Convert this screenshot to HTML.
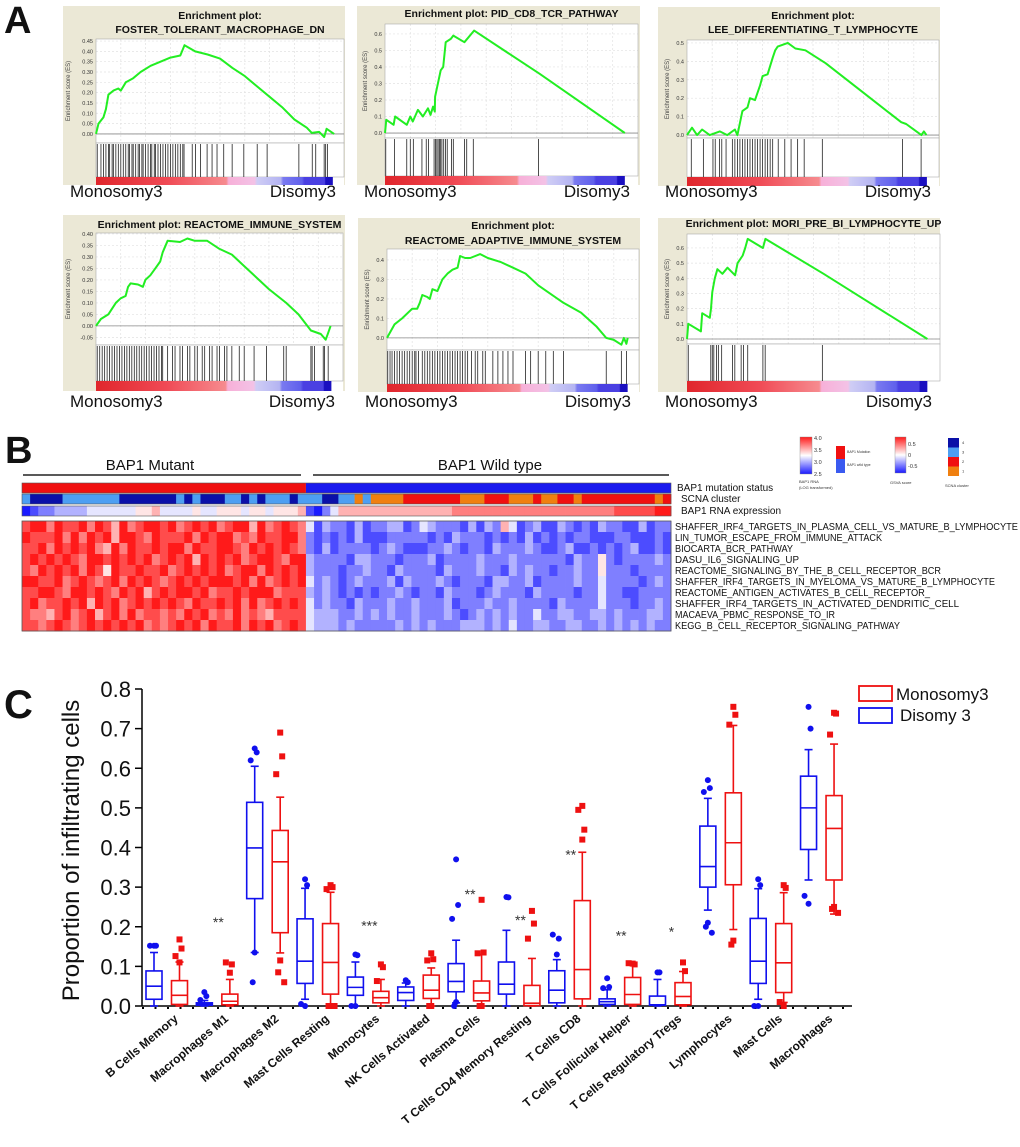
<!DOCTYPE html>
<html><head><meta charset="utf-8"><style>
html,body{margin:0;padding:0;background:#fff;}
svg{display:block;font-family:"Liberation Sans",Arial,sans-serif;}
</style></head><body>
<svg id="fig" width="1020" height="1147" viewBox="0 0 1020 1147" xmlns="http://www.w3.org/2000/svg">
<defs>
<linearGradient id="rankGrad" x1="0" x2="1" y1="0" y2="0">
<stop offset="0" stop-color="#e0262c"/><stop offset="0.3" stop-color="#f04a55"/><stop offset="0.55" stop-color="#f68b8f"/>
<stop offset="0.56" stop-color="#f7b0d8"/><stop offset="0.67" stop-color="#f3c2e6"/><stop offset="0.68" stop-color="#cfcdf5"/>
<stop offset="0.78" stop-color="#b4b4f2"/><stop offset="0.79" stop-color="#7a7af0"/><stop offset="0.87" stop-color="#6060ec"/>
<stop offset="0.88" stop-color="#4a40e2"/><stop offset="0.965" stop-color="#4a40e2"/><stop offset="0.97" stop-color="#1a0fc0"/><stop offset="1" stop-color="#1a0fc0"/>
</linearGradient>
<linearGradient id="bwrGrad" x1="0" x2="0" y1="0" y2="1">
<stop offset="0" stop-color="#ff1a1a"/><stop offset="0.5" stop-color="#ffffff"/><stop offset="1" stop-color="#1a1aff"/>
</linearGradient>
</defs>
<g id="panelA"></g>
<g id="panelB"></g>
<g id="panelC"></g>
</svg>
<script>
// ===== Panel A data =====
const p1X=[0,0.01,0.03,0.04,0.05,0.07,0.09,0.1,0.12,0.15,0.18,0.22,0.26,0.3,0.34,0.357,0.4,0.45,0.5,0.55,0.6,0.65,0.7,0.75,0.8,0.85,0.87,0.9,0.92,0.93,0.96];
const p1Y=[0,0.05,0.08,0.12,0.19,0.21,0.22,0.21,0.25,0.27,0.3,0.33,0.35,0.37,0.38,0.43,0.4,0.385,0.365,0.32,0.28,0.23,0.18,0.13,0.07,0.03,0.005,0.01,-0.015,0.025,0];
const p1Hits=[0.005,0.02,0.03,0.04,0.05,0.055,0.065,0.07,0.08,0.09,0.1,0.11,0.12,0.13,0.135,0.145,0.15,0.16,0.17,0.175,0.185,0.19,0.2,0.21,0.22,0.225,0.235,0.24,0.25,0.26,0.27,0.28,0.29,0.3,0.31,0.32,0.33,0.34,0.35,0.355,0.388,0.401,0.421,0.448,0.468,0.488,0.515,0.549,0.596,0.65,0.69,0.818,0.872,0.886,0.92,0.926,0.933];
const p2X=[0,0.005,0.034,0.04,0.086,0.1,0.11,0.13,0.15,0.17,0.18,0.19,0.197,0.198,0.22,0.23,0.24,0.26,0.27,0.314,0.352,0.61,0.948];
const p2Y=[0,0.08,0.05,0.1,0.05,0.1,0.07,0.14,0.1,0.15,0.11,0.16,0.13,0.22,0.38,0.4,0.55,0.57,0.59,0.55,0.62,0.36,0];
const p2Hits=[0.003,0.038,0.086,0.1,0.112,0.146,0.163,0.172,0.194,0.2,0.205,0.21,0.215,0.22,0.225,0.232,0.239,0.246,0.263,0.27,0.314,0.323,0.349,0.607];
const p3X=[0,0.02,0.04,0.06,0.09,0.13,0.16,0.19,0.2,0.22,0.24,0.25,0.27,0.29,0.3,0.32,0.34,0.35,0.36,0.4,0.43,0.47,0.55,0.7,0.85,0.87,0.93,0.94,0.95];
const p3Y=[0,0.04,0,0.03,0,0.02,0,0.03,0,0.13,0.15,0.2,0.19,0.27,0.32,0.33,0.42,0.46,0.48,0.5,0.47,0.46,0.39,0.23,0.07,0.06,0,0.02,0];
const p3Hits=[0.017,0.065,0.103,0.112,0.129,0.138,0.155,0.18,0.19,0.2,0.21,0.22,0.23,0.24,0.25,0.26,0.27,0.28,0.29,0.3,0.31,0.32,0.33,0.34,0.362,0.388,0.413,0.439,0.465,0.537,0.855,0.929];
const p4X=[0,0.02,0.05,0.08,0.1,0.12,0.13,0.14,0.17,0.19,0.2,0.22,0.24,0.26,0.27,0.29,0.34,0.37,0.4,0.45,0.5,0.55,0.6,0.7,0.77,0.82,0.87,0.91,0.93,0.94,0.95];
const p4Y=[0,0.03,0.05,0.1,0.12,0.13,0.17,0.185,0.18,0.17,0.2,0.22,0.25,0.28,0.32,0.37,0.365,0.38,0.37,0.37,0.335,0.31,0.26,0.16,0.1,0.05,-0.02,-0.035,-0.06,-0.03,0];
const p4Hits=[0.005,0.015,0.025,0.035,0.045,0.055,0.065,0.075,0.085,0.095,0.105,0.115,0.125,0.135,0.145,0.155,0.165,0.175,0.185,0.195,0.205,0.215,0.225,0.235,0.245,0.255,0.265,0.27,0.29,0.31,0.32,0.34,0.35,0.37,0.38,0.4,0.41,0.43,0.44,0.46,0.47,0.49,0.5,0.52,0.53,0.55,0.58,0.6,0.64,0.69,0.76,0.77,0.87,0.875,0.885,0.92,0.925,0.94];
const p5X=[0,0.03,0.06,0.1,0.12,0.13,0.14,0.16,0.17,0.18,0.2,0.22,0.24,0.26,0.28,0.29,0.31,0.33,0.37,0.4,0.45,0.5,0.55,0.6,0.7,0.77,0.83,0.87,0.9,0.93,0.94,0.95,0.955];
const p5Y=[0,0.07,0.1,0.15,0.15,0.18,0.22,0.21,0.2,0.25,0.24,0.3,0.33,0.35,0.36,0.42,0.41,0.41,0.43,0.41,0.39,0.36,0.33,0.27,0.18,0.13,0.06,0,-0.01,-0.035,0,-0.03,0];
const p5Hits=[0.003,0.012,0.02,0.03,0.04,0.05,0.06,0.07,0.08,0.09,0.1,0.11,0.115,0.125,0.14,0.15,0.16,0.17,0.18,0.19,0.2,0.21,0.22,0.23,0.24,0.25,0.26,0.27,0.28,0.29,0.3,0.31,0.32,0.335,0.35,0.36,0.38,0.39,0.42,0.44,0.46,0.48,0.5,0.55,0.57,0.6,0.63,0.66,0.7,0.87,0.93,0.95];
const p6X=[0,0.005,0.055,0.06,0.09,0.095,0.1,0.11,0.12,0.14,0.16,0.19,0.2,0.22,0.23,0.24,0.3,0.31,0.54,0.95];
const p6Y=[0,0.1,0.05,0.17,0.14,0.2,0.31,0.4,0.46,0.43,0.47,0.42,0.5,0.55,0.6,0.66,0.6,0.66,0.43,0];
const p6Hits=[0.005,0.094,0.1,0.106,0.117,0.124,0.137,0.18,0.189,0.214,0.223,0.24,0.3,0.309,0.535];

const NS="http://www.w3.org/2000/svg";
function mk(parent,tag,attrs,text){const e=document.createElementNS(NS,tag);for(const k in attrs)e.setAttribute(k,attrs[k]);if(text!==undefined)e.textContent=text;parent.appendChild(e);return e;}

function gsea(cfg,xs,ys,hits,name){
  const root=document.getElementById('panelA');
  const g=mk(root,'g',{});
  
  
  const bg=mk(g,'rect',{x:cfg.bx0,y:cfg.by0,width:cfg.bx1-cfg.bx0,height:cfg.by1-cfg.by0,fill:'#ebe8d6'});
  
  
  cfg.titles.forEach((t,i)=>{
    const tt=mk(g,'text',{x:(cfg.fx0+cfg.fx1)/2,y:cfg.ty[i],'text-anchor':'middle','font-size':10.5,'font-weight':'bold',fill:'#111'},t);
    
    
  });
  const fw=cfg.fx1-cfg.fx0;
  const sx=f=>cfg.fx0+f*fw;
  const sy=v=>cfg.fy1-(v-cfg.yMin)/(cfg.yMax-cfg.yMin)*(cfg.fy1-cfg.fy0);
  mk(g,'rect',{x:cfg.fx0,y:cfg.fy0,width:fw,height:cfg.by1-cfg.fy0,fill:'#fff'});
  for(let i=1;i<10;i++){mk(g,'line',{x1:cfg.fx0+i*fw/10,x2:cfg.fx0+i*fw/10,y1:cfg.fy0,y2:cfg.fy1,stroke:'#e2e2e2','stroke-width':0.7,'stroke-dasharray':'2,2'});}
  cfg.ticks.forEach(v=>{
    mk(g,'line',{x1:cfg.fx0,x2:cfg.fx1,y1:sy(v),y2:sy(v),stroke:'#e2e2e2','stroke-width':0.7,'stroke-dasharray':'2,2'});
    const tl=mk(g,'text',{x:cfg.fx0-3,y:sy(v)+2,'text-anchor':'end','font-size':5.5,fill:'#333'},v.toFixed(cfg.dec));
    
    
  });
  const yt=mk(g,'text',{x:0,y:0,'text-anchor':'middle','font-size':6,fill:'#444',transform:`translate(${cfg.fx0-cfg.ytOff},${(cfg.fy0+cfg.fy1)/2}) rotate(-90)`},'Enrichment score (ES)');
  
  
  mk(g,'rect',{x:cfg.fx0,y:cfg.fy0,width:fw,height:cfg.fy1-cfg.fy0,fill:'none',stroke:'#aaa','stroke-width':0.6});
  mk(g,'line',{x1:cfg.fx0,x2:cfg.fx1,y1:sy(0),y2:sy(0),stroke:'#888','stroke-width':0.8});
  const pts=xs.map((x,i)=>sx(x).toFixed(1)+','+sy(ys[i]).toFixed(1)).join(' ');
  const es=mk(g,'polyline',{points:pts,fill:'none',stroke:'#22ee22','stroke-width':2,'stroke-linejoin':'round'});
  
  
  mk(g,'rect',{x:cfg.fx0,y:cfg.fy1,width:fw,height:cfg.hy1-cfg.fy1,fill:'#fff',stroke:'#aaa','stroke-width':0.6});
  hits.forEach(h=>{
    const l=mk(g,'line',{x1:sx(h),x2:sx(h),y1:cfg.fy1+1,y2:cfg.hy1,stroke:'#222','stroke-width':0.8});
    
    
  });
  const bar=mk(g,'rect',{x:cfg.fx0,y:cfg.hy1,width:fw*cfg.barW,height:cfg.by1-cfg.hy1,fill:'url(#rankGrad)'});
  
  
  const m=mk(g,'text',{x:cfg.bx0+7,y:cfg.labY,'font-size':17,fill:'#111'},'Monosomy3');
  
  
  const d=mk(g,'text',{x:cfg.fx1-8,y:cfg.labY,'text-anchor':'end','font-size':17,fill:'#111'},'Disomy3');
  
  
}
function rng(a,b,s){const r=[];for(let v=a;v<=b+1e-9;v+=s)r.push(Math.round(v*100)/100);return r;}
gsea({bx0:63,bx1:345,by0:6,by1:185,titles:['Enrichment plot:','FOSTER_TOLERANT_MACROPHAGE_DN'],ty:[19,33],fx0:96,fx1:344,fy0:39,fy1:143,yMin:-0.044,yMax:0.46,ticks:rng(0,0.45,0.05),dec:2,ytOff:26,hy1:177,barW:0.955,labY:197},p1X,p1Y,p1Hits,'gsea-plot-foster');
gsea({bx0:357,bx1:640,by0:6,by1:185,titles:['Enrichment plot: PID_CD8_TCR_PATHWAY'],ty:[17],fx0:385,fx1:638,fy0:24,fy1:138,yMin:-0.03,yMax:0.66,ticks:rng(0,0.6,0.1),dec:1,ytOff:18,hy1:176,barW:0.948,labY:197},p2X,p2Y,p2Hits,'gsea-plot-pid-cd8');
gsea({bx0:658,bx1:940,by0:7,by1:186,titles:['Enrichment plot:','LEE_DIFFERENTIATING_T_LYMPHOCYTE'],ty:[19,33],fx0:687,fx1:939,fy0:40,fy1:138,yMin:-0.016,yMax:0.516,ticks:rng(0,0.5,0.1),dec:1,ytOff:18,hy1:177,barW:0.952,labY:197},p3X,p3Y,p3Hits,'gsea-plot-lee');
gsea({bx0:63,bx1:345,by0:215,by1:391,titles:['Enrichment plot: REACTOME_IMMUNE_SYSTEM'],ty:[228],fx0:96,fx1:343,fy0:233,fy1:345,yMin:-0.083,yMax:0.404,ticks:rng(-0.05,0.4,0.05),dec:2,ytOff:26,hy1:381,barW:0.953,labY:407},p4X,p4Y,p4Hits,'gsea-plot-reactome-immune');
gsea({bx0:358,bx1:640,by0:218,by1:392,titles:['Enrichment plot:','REACTOME_ADAPTIVE_IMMUNE_SYSTEM'],ty:[229,244],fx0:387,fx1:639,fy0:249,fy1:350,yMin:-0.062,yMax:0.456,ticks:rng(0,0.4,0.1),dec:1,ytOff:18,hy1:384,barW:0.955,labY:407},p5X,p5Y,p5Hits,'gsea-plot-reactome-adaptive');
gsea({bx0:658,bx1:940,by0:218,by1:392,titles:['Enrichment plot: MORI_PRE_BI_LYMPHOCYTE_UP'],ty:[227],fx0:687,fx1:940,fy0:234,fy1:344,yMin:-0.033,yMax:0.692,ticks:rng(0,0.6,0.1),dec:1,ytOff:18,hy1:381,barW:0.95,labY:407},p6X,p6Y,p6Hits,'gsea-plot-mori');

// ===== Panel B data =====
const hmRows=['SHAFFER_IRF4_TARGETS_IN_PLASMA_CELL_VS_MATURE_B_LYMPHOCYTE','LIN_TUMOR_ESCAPE_FROM_IMMUNE_ATTACK','BIOCARTA_BCR_PATHWAY','DASU_IL6_SIGNALING_UP','REACTOME_SIGNALING_BY_THE_B_CELL_RECEPTOR_BCR','SHAFFER_IRF4_TARGETS_IN_MYELOMA_VS_MATURE_B_LYMPHOCYTE','REACTOME_ANTIGEN_ACTIVATES_B_CELL_RECEPTOR_','SHAFFER_IRF4_TARGETS_IN_ACTIVATED_DENDRITIC_CELL','MACAEVA_PBMC_RESPONSE_TO_IR','KEGG_B_CELL_RECEPTOR_SIGNALING_PATHWAY'];
const hmVals=[
'89979 88979 86978 99897 89897 89969 78987 41322 13122 33124 32221 31326 41231 13212 13221 13122',
'98889 79798 96998 79888 97989 97879 88997 21212 13111 22222 12132 22121 21312 12122 11122 11121',
'88979 89897 69798 89899 79889 98798 98987 21312 22212 32111 22321 22132 22321 12311 21212 31121',
'89898 98799 89898 97898 96989 89789 98799 32222 13322 21222 31222 23222 32222 22132 25212 22232',
'87989 89798 59889 88978 98989 78997 98989 32221 22322 13222 21322 23221 32322 12232 25222 12222',
'99889 78987 89798 98789 89899 98979 78989 42321 23222 31322 23212 22133 22312 22232 24222 21232',
'88998 79989 87989 68989 98978 89899 97888 32321 21212 23212 21322 21232 22132 22212 24221 12222',
'89788 98969 89789 89898 79889 89797 89898 42322 13222 32232 22312 22322 32222 13222 24222 12232',
'87768 97896 89797 88787 98978 79787 68888 43332 23232 32232 22321 23232 32242 23322 33232 22332',
'88789 87898 98989 78789 89798 89798 97898 43332 32222 23232 32223 33232 42233 22332 23232 32322'];
const mutantCount=35;
const scnaSegs=[[0,1,'L'],[1,5,'D'],[5,12,'L'],[12,19,'D'],[19,20,'L'],[20,21,'D'],[21,22,'L'],[22,25,'D'],[25,27,'L'],[27,28,'D'],[28,29,'L'],[29,30,'D'],[30,33,'L'],[33,34,'D'],[34,37,'L'],[37,39,'D'],[39,41,'L'],[41,42,'O'],[42,43,'L'],[43,47,'O'],[47,54,'R'],[54,57,'O'],[57,60,'R'],[60,63,'O'],[63,64,'R'],[64,66,'O'],[66,68,'R'],[68,69,'O'],[69,78,'R'],[78,79,'O'],[79,80,'R']];
const rnaExpr='01223 33344 44445 56444 45445 55455 45556 10246 66666 66666 66677 77777 77777 77777 77788 88899';

(function(){
  const g=document.getElementById('panelB');
  const colors={L:'#4d9ff2',D:'#0a10a8',O:'#f08010',R:'#f01010'};
  function bwr(v){const t=v/9;let r,gg,b;if(t<0.5){const u=t/0.5;r=26+u*229;gg=26+u*229;b=255;}else{const u=(t-0.5)/0.5;r=255;gg=255-u*229;b=255-u*229;}return `rgb(${r|0},${gg|0},${b|0})`;}
  const x0=22,x1=671,cols=80,cw=(x1-x0)/cols;
  const lbl=mk(g,'text',{x:5,y:463,'font-size':38,'font-weight':'bold',fill:'#111'},'B');
  
  const mt=mk(g,'text',{x:150,y:470,'text-anchor':'middle','font-size':15,fill:'#111'},'BAP1 Mutant');
  
  mk(g,'line',{x1:23,x2:301,y1:475,y2:475,stroke:'#222','stroke-width':1.5});
  const wt=mk(g,'text',{x:490,y:470,'text-anchor':'middle','font-size':15,fill:'#111'},'BAP1 Wild type');
  
  mk(g,'line',{x1:313,x2:669,y1:475,y2:475,stroke:'#222','stroke-width':1.5});
  const ms1=mk(g,'rect',{x:x0,y:483,width:mutantCount*cw,height:10,fill:'#f01010'});
  
  const ms2=mk(g,'rect',{x:x0+mutantCount*cw,y:483,width:(cols-mutantCount)*cw,height:10,fill:'#1a1aee'});
  
  scnaSegs.forEach(s=>{
    const r=mk(g,'rect',{x:x0+s[0]*cw,y:494,width:(s[1]-s[0])*cw+0.3,height:10,fill:colors[s[2]]});
    
  });
  const rv=rnaExpr.replace(/ /g,'');
  for(let c=0;c<cols;c++){
    const r=mk(g,'rect',{x:x0+c*cw,y:506,width:cw+0.4,height:10,fill:bwr(+rv[c])});
    
  }
  [483,494,506].forEach(y=>mk(g,'rect',{x:x0,y:y,width:x1-x0,height:10,fill:'none',stroke:'#555','stroke-width':0.6}));
  [['BAP1 mutation status',491,677],['SCNA cluster',502,681],['BAP1 RNA expression',514,681]].forEach(a=>{
    const t=mk(g,'text',{x:a[2],y:a[1],'font-size':10,fill:'#111'},a[0]);
    
  });
  const top=521,rh=11;
  hmVals.forEach((row,ri)=>{
    const v=row.replace(/ /g,'');
    for(let c=0;c<cols;c++){
      const r=mk(g,'rect',{x:x0+c*cw,y:top+ri*rh,width:cw+0.4,height:rh+0.4,fill:bwr(+v[c])});
      
    }
    const t=mk(g,'text',{x:675,y:top+ri*rh+9,'font-size':10,fill:'#111'},hmRows[ri]);
    
    const L=hmRows[ri].length*5.92;t.setAttribute('textLength',L.toFixed(0));t.setAttribute('lengthAdjust','spacingAndGlyphs');
  });
  mk(g,'rect',{x:x0,y:top,width:x1-x0,height:rh*10,fill:'none',stroke:'#555','stroke-width':0.8});
  const lg=mk(g,'g',{});
  mk(lg,'rect',{x:800,y:437,width:12,height:37,fill:'url(#bwrGrad)',stroke:'#888','stroke-width':0.4});
  ['4.0','3.5','3.0','2.5'].forEach((s,i)=>mk(lg,'text',{x:814,y:440+i*12,'font-size':5.5,fill:'#333'},s));
  mk(lg,'text',{x:799,y:483,'font-size':4,fill:'#333'},'BAP1 RNA');
  mk(lg,'text',{x:799,y:489,'font-size':4,fill:'#333'},'(LOG transformed)');
  mk(lg,'rect',{x:836,y:446,width:9,height:13,fill:'#f01010'});
  mk(lg,'rect',{x:836,y:459,width:9,height:14,fill:'#3a5af0'});
  mk(lg,'text',{x:847,y:453,'font-size':3.5,fill:'#333'},'BAP1 Mutation');
  mk(lg,'text',{x:847,y:466,'font-size':3.5,fill:'#333'},'BAP1 wild type');
  mk(lg,'rect',{x:895,y:437,width:11,height:36,fill:'url(#bwrGrad)',stroke:'#888','stroke-width':0.4});
  ['0.5','0','-0.5'].forEach((s,i)=>mk(lg,'text',{x:908,y:446+i*11,'font-size':5.5,fill:'#333'},s));
  mk(lg,'text',{x:890,y:484,'font-size':4,fill:'#333'},'GSVA score');
  ['#0a10a8','#4d9ff2','#f01010','#f08010'].forEach((c,i)=>mk(lg,'rect',{x:948,y:438+i*9.5,width:11,height:9.5,fill:c}));
  ['4','3','2','1'].forEach((s,i)=>mk(lg,'text',{x:962,y:444+i*9.5,'font-size':4,fill:'#333'},s));
  mk(lg,'text',{x:945,y:487,'font-size':4,fill:'#333'},'SCNA cluster');
})();

// ===== Panel C data =====
const cellTypes=['B Cells Memory','Macrophages M1','Macrophages M2','Mast Cells Resting','Monocytes','NK Cells Activated','Plasma Cells','T Cells CD4 Memory Resting','T Cells CD8','T Cells Follicular Helper','T Cells Regulatory Tregs','Lymphocytes','Mast Cells','Macrophages'];
// [whiskerLow, q1, median, q3, whiskerHigh]
const disomyStats=[[0,0.017,0.05,0.0885,0.135],[0,0.002,0.005,0.008,0.014],[0.135,0.271,0.399,0.514,0.605],[0.017,0.057,0.113,0.22,0.297],[0,0.027,0.047,0.073,0.111],[0,0.014,0.034,0.048,0.058],[0.008,0.036,0.062,0.107,0.166],[0,0.03,0.055,0.111,0.191],[0,0.008,0.04,0.089,0.117],[0,0.004,0.011,0.018,0.041],[0,0.002,0.003,0.025,0.067],[0.242,0.3,0.352,0.454,0.524],[0.017,0.057,0.113,0.221,0.296],[0.318,0.395,0.5,0.58,0.647]];
const monosomyStats=[[0,0.004,0.027,0.064,0.111],[0,0.003,0.012,0.03,0.067],[0.134,0.185,0.364,0.443,0.527],[0,0.03,0.11,0.208,0.287],[0,0.008,0.021,0.037,0.067],[0,0.019,0.04,0.078,0.096],[0,0.013,0.033,0.063,0.13],[0,0.001,0.007,0.052,0.12],[0,0.018,0.092,0.266,0.388],[0,0.004,0.029,0.072,0.103],[0,0.003,0.024,0.059,0.087],[0.193,0.306,0.412,0.538,0.708],[0.009,0.034,0.109,0.208,0.286],[0.232,0.318,0.448,0.531,0.661]];
const disomyOutliers=[[0.152,0.152,0.152],[0.035,0.025,0.015],[0.65,0.64,0.62,0.135,0.06],[0.32,0.305,0.005,0],[0.13,0.128,0,0],[0.065,0.06],[0.37,0.255,0.22,0.01,0],[0.275,0.274],[0.13,0.17,0.18],[0.07,0.048,0.045],[0.085,0.085],[0.57,0.55,0.54,0.21,0.2,0.185],[0.32,0.305,0,0],[0.755,0.7,0.278,0.258]];
const monosomyOutliers=[[0.168,0.145,0.126,0.11],[0.084,0.105,0.11],[0.69,0.63,0.585,0.115,0.085,0.06],[0.305,0.3,0.295,0,0,0],[0.105,0.098,0.063],[0.133,0.118,0.115,0,0],[0.268,0.135,0.133,0,0],[0.24,0.208,0.17],[0.42,0.445,0.495,0.505],[0.107,0.105,0.108],[0.11,0.088],[0.755,0.735,0.71,0.165,0.155],[0.305,0.298,0.01,0],[0.74,0.738,0.685,0.25,0.245,0.235]];
const sigLabels=['','**','','','***','','**','**','**','**','*','','',''];
const sigValues=[0,0.2,0,0,0.19,0,0.27,0.205,0.37,0.165,0.175,0,0,0];
const yTickVals=[0,0.1,0.2,0.3,0.4,0.5,0.6,0.7,0.8];

(function(){
  const g=document.getElementById('panelC');
  const y0=1006,y8=689,ax=142,xEnd=852;
  const yS=v=>y0-v/0.8*(y0-y8);
  const xS=i=>154+i*50.35;
  const off=25.5,bw=16;
  const lbl=mk(g,'text',{x:4,y:718,'font-size':40,'font-weight':'bold',fill:'#111'},'C');
  
  const ya=mk(g,'line',{x1:ax,x2:ax,y1:y8,y2:y0,stroke:'#000','stroke-width':1.5});
  
  yTickVals.forEach(v=>{
    mk(g,'line',{x1:ax-7,x2:ax,y1:yS(v),y2:yS(v),stroke:'#000','stroke-width':1.5});
    const t=mk(g,'text',{x:ax-11,y:yS(v)+8,'text-anchor':'end','font-size':22,fill:'#111'},v.toFixed(1));
    
  });
  const yt=mk(g,'text',{x:0,y:0,'text-anchor':'middle','font-size':24,fill:'#111',transform:`translate(79,${(y0+y8)/2+3}) rotate(-90)`},'Proportion of infiltrating cells');
  
  const xa=mk(g,'line',{x1:ax,x2:xEnd,y1:y0,y2:y0,stroke:'#000','stroke-width':1.5});
  
  mk(g,'line',{x1:ax,x2:xEnd,y1:y0+2,y2:y0+2,stroke:'#000','stroke-width':2,'stroke-dasharray':'2,10.5'});
  function box(cx,s,outs,color,isRed,name){
    const bg=mk(g,'g',{});
    
    
    mk(bg,'line',{x1:cx,x2:cx,y1:yS(s[0]),y2:yS(s[1]),stroke:color,'stroke-width':1.6});
    mk(bg,'line',{x1:cx,x2:cx,y1:yS(s[3]),y2:yS(s[4]),stroke:color,'stroke-width':1.6});
    mk(bg,'line',{x1:cx-4,x2:cx+4,y1:yS(s[4]),y2:yS(s[4]),stroke:color,'stroke-width':1.6});
    mk(bg,'line',{x1:cx-4,x2:cx+4,y1:yS(s[0]),y2:yS(s[0]),stroke:color,'stroke-width':1.6});
    mk(bg,'rect',{x:cx-bw/2,y:yS(s[3]),width:bw,height:Math.max(yS(s[1])-yS(s[3]),1),fill:'none',stroke:color,'stroke-width':1.6});
    mk(bg,'line',{x1:cx-bw/2,x2:cx+bw/2,y1:yS(s[2]),y2:yS(s[2]),stroke:color,'stroke-width':1.6});
    outs.forEach((v,k)=>{
      const dx=(k%2===0?-1:1)*((k%3)*2);
      if(isRed){const o=mk(bg,'rect',{x:cx+dx-3,y:yS(v)-3,width:6,height:6,fill:color});}
      else{const o=mk(bg,'circle',{cx:cx+dx,cy:yS(v),r:3,fill:color});}
    });
  }
  cellTypes.forEach((c,i)=>{
    box(xS(i),disomyStats[i],disomyOutliers[i],'#1010ee',false,'box-disomy3');
    box(xS(i)+off,monosomyStats[i],monosomyOutliers[i],'#ee1111',true,'box-monosomy3');
    if(sigLabels[i]){
      const st=mk(g,'text',{x:xS(i)+off*0.55,y:yS(sigValues[i]),'text-anchor':'middle','font-size':14,fill:'#333'},sigLabels[i]);
      
    }
    const xl=mk(g,'text',{x:0,y:0,'text-anchor':'end','font-size':12,'font-weight':'bold',fill:'#111',transform:`translate(${xS(i)+off/2+12},${y0+14}) rotate(-40)`},c);
    
  });
  const lg=mk(g,'g',{});
  const l1=mk(lg,'rect',{x:859,y:686,width:33,height:15,fill:'none',stroke:'#ee1111','stroke-width':1.8});
  
  const t1=mk(lg,'text',{x:896,y:700,'font-size':17,fill:'#111'},'Monosomy3');
  
  const l2=mk(lg,'rect',{x:859,y:708,width:33,height:15,fill:'none',stroke:'#1010ee','stroke-width':1.8});
  
  const t2=mk(lg,'text',{x:900,y:721,'font-size':17,fill:'#111'},'Disomy 3');
  
})();
(function(){
  const g=document.getElementById('panelA');
  const a=mk(g,'text',{x:4,y:33,'font-size':38,'font-weight':'bold',fill:'#111'},'A');
  
})();
</script>
</body></html>
